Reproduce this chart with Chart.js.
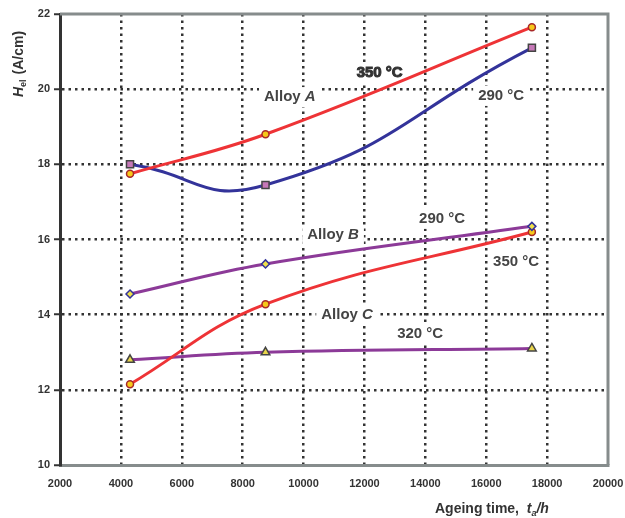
<!DOCTYPE html>
<html>
<head>
<meta charset="utf-8">
<script src="https://cdn.jsdelivr.net/npm/chart.js@4.4.1/dist/chart.umd.min.js"></script>
<style>
  html, body { margin: 0; padding: 0; background: #ffffff; }
  #wrap { width: 625px; height: 518px; position: relative; }
</style>
</head>
<body>
<div id="wrap"><canvas id="c" width="625" height="518"></canvas></div>
<script>
// ---- data ----
const ageingTimes = [4300, 8750, 17500];
const alloyA350 = [17.75, 18.8, 21.65];
const alloyA290 = [18.0, 17.45, 21.1];
const alloyB290 = [14.55, 15.35, 16.35];
const alloyC350 = [12.15, 14.28, 16.2];
const alloyC320 = [12.8, 13.0, 13.1];

const xTicks = [2000, 4000, 6000, 8000, 10000, 12000, 14000, 16000, 18000, 20000];
const yTicks = [10, 12, 14, 16, 18, 20, 22];

// annotations: [text, italic suffix, x, y, heavy]
const labels = [
  ['Alloy ', 'A', 9550, 19.79, false],
  ['350 °C', '', 12500, 20.43, true],
  ['290 °C', '', 16490, 19.82, false],
  ['290 °C', '', 14550, 16.55, false],
  ['Alloy ', 'B', 10970, 16.12, false],
  ['350 °C', '', 16980, 15.40, false],
  ['Alloy ', 'C', 11430, 13.99, false],
  ['320 °C', '', 13830, 13.48, false]
];

const pts = (ys) => ageingTimes.map((t, i) => ({ x: t, y: ys[i] }));

const RED = '#ee3336';
const BLUE = '#33339a';
const PURPLE = '#8c3a98';

const FONT = '"Liberation Sans", Arial, sans-serif';

function measureLabel(ctx, t, it) {
  ctx.font = 'bold 15px ' + FONT;
  const w1 = ctx.measureText(t).width;
  ctx.font = 'italic bold 15px ' + FONT;
  const w2 = it ? ctx.measureText(it).width : 0;
  return [w1, w2];
}

const framePlugin = {
  id: 'frame',
  beforeDatasetsDraw(chart) {
    const { ctx, chartArea: a, scales } = chart;
    ctx.save();
    ctx.strokeStyle = '#868c8c';
    ctx.lineWidth = 3;
    ctx.beginPath();
    ctx.moveTo(a.left, a.top);
    ctx.lineTo(a.right, a.top);
    ctx.lineTo(a.right, a.bottom);
    ctx.stroke();

    // white boxes behind the annotations (mask the grid only)
    ctx.fillStyle = '#ffffff';
    labels.forEach(([t, it, x, y]) => {
      const px = scales.x.getPixelForValue(x), py = scales.y.getPixelForValue(y);
      const [w1, w2] = measureLabel(ctx, t, it);
      const w = w1 + w2;
      ctx.fillRect(px - w / 2 - 5, py - 10, w + 10, 20);
    });
    ctx.restore();
  },
  afterDraw(chart) {
    const { ctx, scales } = chart;
    const xs = scales.x, ys = scales.y;
    ctx.save();
    ctx.fillStyle = '#444444';
    ctx.textBaseline = 'middle';
    labels.forEach(([t, it, x, y, heavy]) => {
      const px = xs.getPixelForValue(x), py = ys.getPixelForValue(y);
      const [w1, w2] = measureLabel(ctx, t, it);
      let sx = px - (w1 + w2) / 2;
      ctx.font = 'bold 15px ' + FONT;
      ctx.textAlign = 'left';
      if (heavy) {
        ctx.fillStyle = '#333333';
        ctx.fillText(t, sx, py);
        ctx.strokeStyle = '#333333';
        ctx.lineWidth = 1;
        ctx.strokeText(t, sx, py);
        ctx.fillStyle = '#444444';
      } else {
        ctx.fillText(t, sx, py);
      }
      if (it) {
        ctx.font = 'italic bold 15px ' + FONT;
        ctx.fillText(it, sx + w1, py);
      }
    });

    // x axis title: Ageing time,  t_a/h
    ctx.fillStyle = '#333333';
    ctx.textBaseline = 'alphabetic';
    ctx.textAlign = 'left';
    let x = 435, y = 513;
    ctx.font = 'bold 14px ' + FONT;
    const p1 = 'Ageing time,  ';
    ctx.fillText(p1, x, y); x += ctx.measureText(p1).width;
    ctx.font = 'italic bold 14px ' + FONT;
    ctx.fillText('t', x, y); x += ctx.measureText('t').width;
    ctx.font = 'italic bold 9px ' + FONT;
    ctx.fillText('a', x, y + 3); x += ctx.measureText('a').width;
    ctx.font = 'italic bold 14px ' + FONT;
    ctx.fillText('/h', x, y);

    // y axis title: H_el (A/cm), rotated
    ctx.save();
    ctx.translate(23, 97);
    ctx.rotate(-Math.PI / 2);
    let yx = 0;
    ctx.font = 'italic bold 14px ' + FONT;
    ctx.fillText('H', yx, 0); yx += ctx.measureText('H').width;
    ctx.font = 'bold 9px ' + FONT;
    ctx.fillText('el', yx, 3); yx += ctx.measureText('el').width + 1;
    ctx.font = 'bold 14px ' + FONT;
    ctx.fillText(' (A/cm)', yx, 0);
    ctx.restore();
    ctx.restore();
  }
};

const edgeTransparent = (min, max) => (c) =>
  (c.tick && (c.tick.value === min || c.tick.value === max)) ? 'rgba(0,0,0,0)' : '#333333';

new Chart(document.getElementById('c'), {
  type: 'line',
  data: {
    datasets: [
      { label: 'Alloy A 350 °C', data: pts(alloyA350), borderColor: RED, borderWidth: 3, tension: 0.4,
        pointStyle: 'circle', pointRadius: 3.5, pointBackgroundColor: '#f6c81a', pointBorderColor: '#a82828', pointBorderWidth: 1.5 },
      { label: 'Alloy A 290 °C', data: pts(alloyA290), borderColor: BLUE, borderWidth: 3, tension: 0.5,
        pointStyle: 'rect', pointRadius: 5, pointBackgroundColor: '#c678b8', pointBorderColor: '#444444', pointBorderWidth: 1.5 },
      { label: 'Alloy B 290 °C', data: pts(alloyB290), borderColor: PURPLE, borderWidth: 3, tension: 0.4,
        pointStyle: 'rectRot', pointRadius: 4, pointBackgroundColor: '#efe04a', pointBorderColor: '#33339a', pointBorderWidth: 1.5 },
      { label: 'Alloy C 350 °C', data: pts(alloyC350), borderColor: RED, borderWidth: 3, tension: 0.4,
        pointStyle: 'circle', pointRadius: 3.5, pointBackgroundColor: '#f6c81a', pointBorderColor: '#a82828', pointBorderWidth: 1.5 },
      { label: 'Alloy C 320 °C', data: pts(alloyC320), borderColor: PURPLE, borderWidth: 3, tension: 0.4,
        pointStyle: 'triangle', pointRadius: 5, pointBackgroundColor: '#e8d44a', pointBorderColor: '#444444', pointBorderWidth: 1.5 }
    ]
  },
  options: {
    responsive: false,
    animation: false,
    devicePixelRatio: 1,
    layout: { padding: { top: 14, right: 17, left: 0, bottom: 0 } },
    plugins: { legend: { display: false }, tooltip: { enabled: false } },
    scales: {
      x: {
        type: 'linear',
        min: xTicks[0], max: xTicks[xTicks.length - 1],
        afterBuildTicks: (s) => { s.ticks = xTicks.map(v => ({ value: v })); },
        afterFit: (s) => { s.height = 53; s.paddingLeft = 0; s.paddingRight = 0; },
        ticks: { color: '#333333', font: { family: FONT, size: 11, weight: 'bold' }, padding: 12, maxRotation: 0,
                 callback: (v) => String(v) },
        grid: { color: edgeTransparent(2000, 20000), lineWidth: 2.5, drawTicks: false },
        border: { color: '#868c8c', width: 3, dash: [2.5, 4] }
      },
      y: {
        min: yTicks[0], max: yTicks[yTicks.length - 1],
        afterBuildTicks: (s) => { s.ticks = yTicks.map(v => ({ value: v })); },
        afterFit: (s) => { s.width = 60; s.paddingTop = 0; s.paddingBottom = 0; },
        ticks: { color: '#333333', font: { family: FONT, size: 11, weight: 'bold' }, padding: 4,
                 callback: (v) => String(v) },
        grid: { color: edgeTransparent(22, 22), lineWidth: 2.5, tickLength: 6,
                tickColor: '#333333', tickWidth: 2, tickBorderDash: [] },
        border: { color: '#333333', width: 3, dash: [2.5, 4] }
      }
    }
  },
  plugins: [framePlugin]
});
</script>
</body>
</html>
